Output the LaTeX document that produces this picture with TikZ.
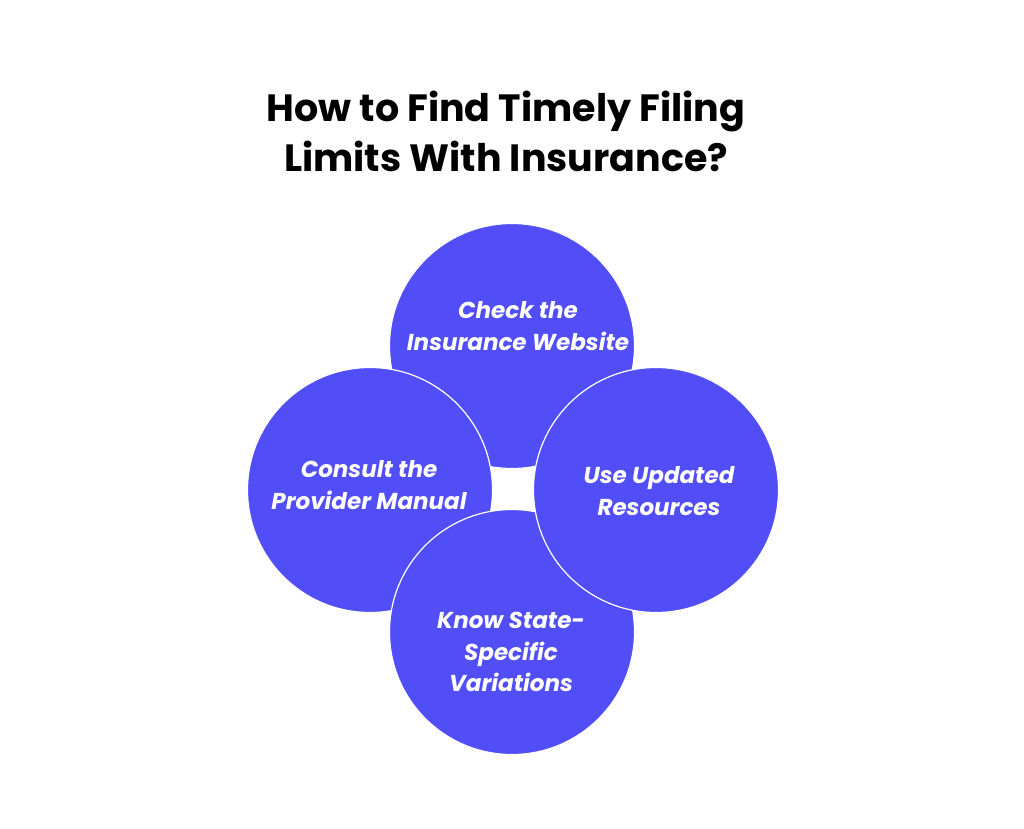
\documentclass[tikz,border=0pt]{standalone}
\usepackage{fontspec}
\setmainfont{Poppins}
\usetikzlibrary{positioning}
\definecolor{bubbleblue}{HTML}{524EF7}
\tikzset {
    bubble/.style = {circle, fill = bubbleblue, draw = white, line width = 1.2pt,
        minimum size = 245pt, inner sep = 0pt},
    bubble text/.style = {text = white, align = center,
        font = \fontsize{23}{31.5}\selectfont\bfseries\itshape},
    title text/.style = {text = black, align = center,
        font = \fontsize{38}{50}\selectfont\bfseries}
}
\begin{document}
\begin{tikzpicture}[x = 1pt, y = -1pt]
    \useasboundingbox (0, 0) rectangle (1024, 828);
    \node (title) [title text] at (506, 131) {How to Find Timely Filing\\ Limits With Insurance?};
    % circles, back to front
    \node (check) [bubble] at (512, 346) {};
    \node (consult) [bubble] at (370, 490) {};
    \node (know) [bubble] at (512, 632) {};
    \node (update) [bubble] at (656, 490) {};
    % texts
    \node (check text) [bubble text] at (518, 326) {Check the\\ Insurance Website};
    \node (consult text) [bubble text] at (369, 485) {Consult the\\ Provider Manual};
    \node (update text) [bubble text] at (659, 491) {Use Updated\\ Resources};
    \node (know text) [bubble text] at (511, 652) {Know State-\\ Specific\\ Variations};
\end{tikzpicture}
\end{document}
